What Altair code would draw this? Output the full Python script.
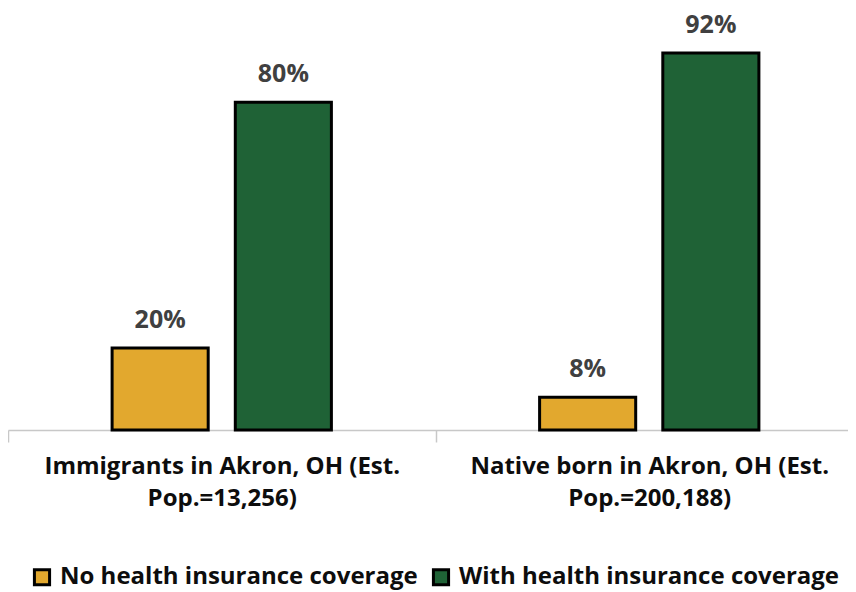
import altair as alt
import pandas as pd

groups = ["Immigrants in Akron, OH (Est. Pop.=13,256)",
          "Native born in Akron, OH (Est. Pop.=200,188)"]
series = ["No health insurance coverage", "With health insurance coverage"]
no_cov = [0.20, 0.08]
with_cov = [0.80, 0.92]
colors = ["#E2A82E", "#1F6236"]

rows = []
for g, a, b in zip(groups, no_cov, with_cov):
    rows.append({"group": g, "series": series[0], "value": a})
    rows.append({"group": g, "series": series[1], "value": b})
df = pd.DataFrame(rows)

FONT = "Open Sans"

x = alt.X("group:N", sort=groups, title=None,
          scale=alt.Scale(paddingInner=0, paddingOuter=0, range=[0, 855]),
          axis=alt.Axis(labelAngle=0, labelFont=FONT, labelFontSize=24, labelFontWeight="bold",
                        labelColor="#0d0d0d", labelPadding=12, labelLineHeight=32, labelLimit=0,
                        labelExpr="[slice(datum.label, 0, indexof(datum.label, ' Pop.')), slice(datum.label, indexof(datum.label, ' Pop.') + 1)]",
                        domainColor="#C8C8C8", domainWidth=1.5, tickColor="#C8C8C8", tickWidth=1.5,
                        tickSize=12, tickBand="extent", grid=False))
xo = alt.XOffset("series:N", sort=series,
                 scale=alt.Scale(paddingInner=0.22, paddingOuter=0.845))
y = alt.Y("value:Q", scale=alt.Scale(domain=[0, 1.03]), axis=None)

bars = alt.Chart(df).mark_bar(stroke="black", strokeWidth=3).encode(
    x=x, xOffset=xo, y=y,
    color=alt.Color("series:N", sort=series,
                    scale=alt.Scale(domain=series, range=colors),
                    legend=alt.Legend(title=None, orient="none", direction="horizontal",
                                      legendX=22, legendY=557,
                                      symbolType="square", symbolSize=230, symbolStrokeColor="black",
                                      symbolStrokeWidth=3, labelFont=FONT, labelFontSize=24,
                                      labelFontWeight="bold", labelColor="#0d0d0d",
                                      columnPadding=9, symbolOffset=0, labelOffset=6,
                                      labelLimit=500))
)

labels = alt.Chart(df).mark_text(dy=-20, baseline="alphabetic", font=FONT, fontSize=25,
                                 fontWeight="bold", color="#404040").encode(
    x=x, xOffset=xo, y=y,
    text=alt.Text("value:Q", format=".0%")
)

chart = (bars + labels).properties(
    width=840, height=422,
    padding={"left": 0, "top": 0, "right": 0, "bottom": 162},
    autosize=alt.AutoSizeParams(type="none"),
).configure_view(stroke=None)
chart.save("out.html", embed_options={"renderer": "svg", "actions": False})
